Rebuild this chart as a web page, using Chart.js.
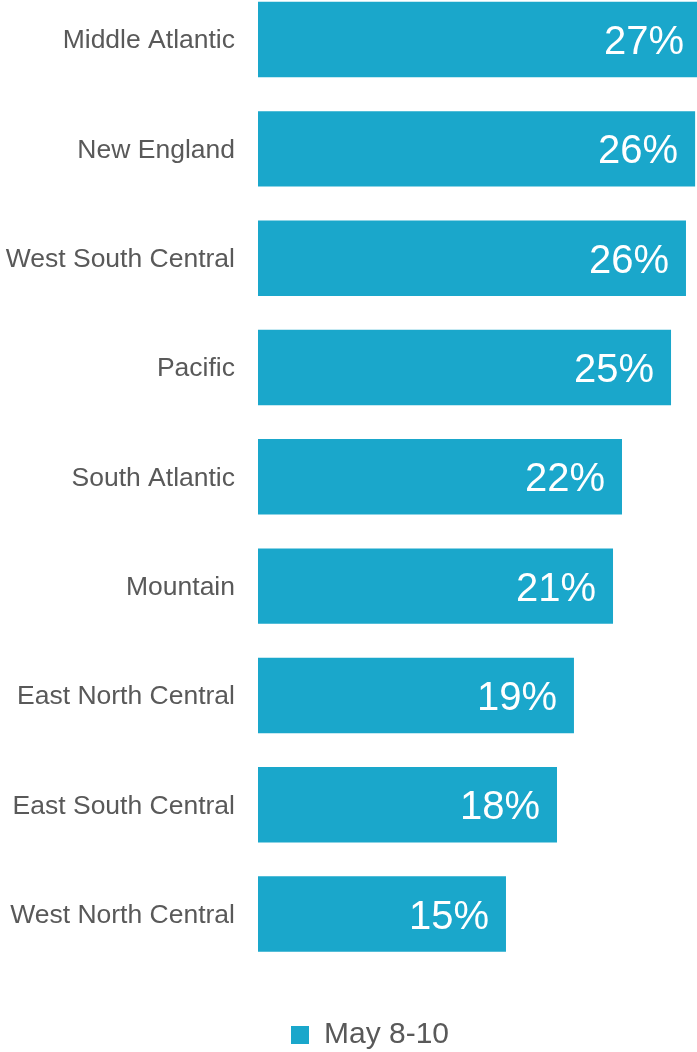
<!DOCTYPE html>
<html>
<head>
<meta charset="utf-8">
<script src="https://cdn.jsdelivr.net/npm/chart.js@4/dist/chart.umd.min.js"></script>
<style>
  html, body { margin: 0; padding: 0; background: #ffffff; width: 697px; height: 1052px; overflow: hidden; position: relative; }
  #c { position: absolute; left: 0; top: -54px; }
</style>
</head>
<body>
<canvas id="c" width="740" height="1114"></canvas>
<script>
const categories = ["Middle Atlantic", "New England", "West South Central", "Pacific", "South Atlantic", "Mountain", "East North Central", "East South Central", "West North Central"];
const seriesName = "May 8-10";
const values = [26.65, 26.3, 25.75, 24.85, 21.9, 21.36, 19.01, 17.99, 14.92];
const axisMin = 0;
const axisMax = 29;

const FONT = '"Liberation Sans", Arial, Helvetica, sans-serif';
const BAR = '#1AA7CB';
const GREY = '#595959';

const valueLabels = {
  id: 'valueLabels',
  afterDatasetsDraw(chart) {
    const ctx = chart.ctx;
    const meta = chart.getDatasetMeta(0);
    ctx.save();
    ctx.font = '40px ' + FONT;
    ctx.fillStyle = '#ffffff';
    ctx.textAlign = 'right';
    ctx.textBaseline = 'alphabetic';
    meta.data.forEach((el, i) => {
      const v = chart.data.datasets[0].data[i];
      ctx.fillText(Math.round(v) + '%', el.x - 17, el.y + 14.5);
    });
    ctx.restore();
  }
};

new Chart(document.getElementById('c'), {
  type: 'bar',
  data: {
    labels: categories,
    datasets: [{
      label: seriesName,
      data: values,
      backgroundColor: BAR,
      borderWidth: 0,
      categoryPercentage: 1.0,
      barPercentage: 0.69
    }]
  },
  options: {
    indexAxis: 'y',
    responsive: false,
    maintainAspectRatio: false,
    animation: false,
    devicePixelRatio: 1,
    layout: { padding: { top: 0, left: 0, right: 0, bottom: 0 } },
    scales: {
      x: {
        min: axisMin, max: axisMax,
        display: true,
        grid: { display: false, drawTicks: false },
        border: { display: false },
        ticks: { display: false },
        afterFit: s => { s.height = 41.3; }
      },
      y: {
        grid: { display: false, drawTicks: false },
        border: { display: false },
        ticks: { color: GREY, font: { family: FONT, size: 26.5 }, padding: 23, labelOffset: 1.5 },
        afterFit: s => { s.width = 258; }
      }
    },
    plugins: {
      legend: {
        display: true,
        position: 'bottom',
        labels: {
          color: GREY,
          font: { family: FONT, size: 30 },
          boxWidth: 18,
          boxHeight: 18,
          padding: 10
        }
      },
      tooltip: { enabled: false }
    }
  },
  plugins: [valueLabels]
});
</script>
</body>
</html>
